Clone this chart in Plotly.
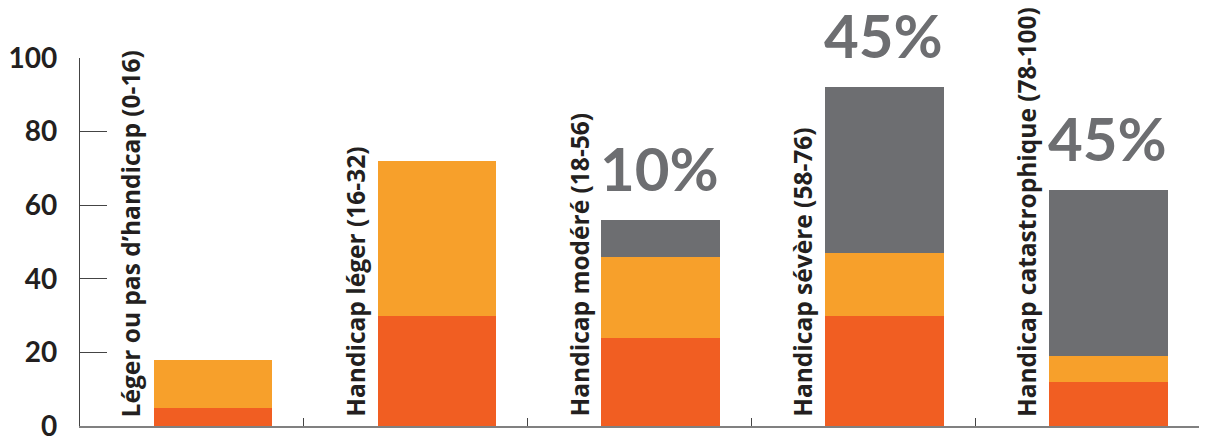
import plotly.graph_objects as go

categories = ["Léger ou pas d’handicap (0-16)", "Handicap léger (16-32)",
              "Handicap modéré (18-56)", "Handicap sévère (58-76)",
              "Handicap catastrophique (78-100)"]
series_red = [5, 30, 24, 30, 12]
series_orange = [13, 42, 22, 17, 7]
series_gray = [0, 0, 10, 45, 45]
pct_labels = ["", "", "10%", "45%", "45%"]
y_ticks = [0, 20, 40, 60, 80, 100]

colors = ["#f15e22", "#f7a02b", "#6d6e71"]
FONT = "Lato"

fig = go.Figure()
for vals, col in zip([series_red, series_orange, series_gray], colors):
    fig.add_trace(go.Bar(x=categories, y=vals, marker_color=col,
                         marker_line_width=0, width=0.53, offset=-0.17,
                         showlegend=False))

totals = [a + b + c for a, b, c in zip(series_red, series_orange, series_gray)]

for i, cat in enumerate(categories):
    fig.add_annotation(x=cat, y=0, text=cat, textangle=-90, showarrow=False,
                       xanchor="center", yanchor="bottom", xshift=-61, yshift=7,
                       font=dict(family="Open Sans", size=24.5, color="#231f20", weight="bold"))
    if pct_labels[i]:
        fig.add_annotation(x=cat, y=totals[i], text=pct_labels[i], showarrow=False,
                           xanchor="center", yanchor="bottom", xshift=20, yshift=14,
                           font=dict(family=FONT, size=60, color="#6d6e71", weight="bold"))

fig.update_layout(
    width=1207, height=439,
    margin=dict(l=80, r=8, t=58, b=13, autoexpand=False),
    barmode="stack", bargap=0,
    plot_bgcolor="white", paper_bgcolor="white",
    xaxis=dict(showticklabels=False, ticks="inside", tickson="boundaries",
               ticklen=8, tickcolor="#444", showline=True, linecolor="#808080",
               linewidth=1.5, showgrid=False, zeroline=False, automargin=False),
    yaxis=dict(range=[0, 100], tickvals=y_ticks, ticks="inside", ticklen=27,
               tickcolor="#444", showline=True, linecolor="#444", linewidth=1.2,
               showgrid=False, zeroline=False, ticklabelstandoff=16,
               ticklabeloverflow="allow", automargin=False,
               tickfont=dict(family=FONT, size=28, color="#231f20", weight="bold")),
)

fig.write_html("out.html")
